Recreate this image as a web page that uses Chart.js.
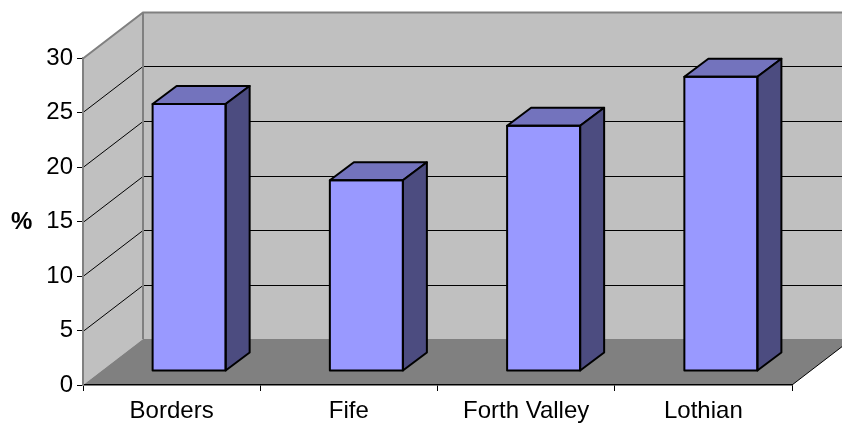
<!DOCTYPE html>
<html>
<head>
<meta charset="utf-8">
<script src="https://cdn.jsdelivr.net/npm/chart.js@4"></script>
<style>
  body { margin: 0; background: #fff; }
  #wrap { width: 842px; height: 429px; }
</style>
</head>
<body>
<div id="wrap"><canvas id="bar-chart3d" width="842" height="429"></canvas></div>
<script>
const regions = ['Borders', 'Fife', 'Forth Valley', 'Lothian'];
const percent = [24.5, 17.5, 22.5, 27];
const yTicks = [0, 5, 10, 15, 20, 25, 30];

// oblique depth of the plot box and of the bars
const DEPTH_X = 60, DEPTH_Y = -46;
const BAR_SHIFT_X = 17.5, BAR_SHIFT_Y = -14;
const BAR_DX = 24, BAR_DY = -18;
const FONT = '"Liberation Sans", Arial, sans-serif';

const walls3d = {
    id: 'walls3d',
    beforeDraw(chart) {
        const ctx = chart.ctx;
        const xs = chart.scales.x, ys = chart.scales.y;
        const L = xs.left, R = xs.right;
        const y0 = ys.getPixelForValue(0), yTop = ys.getPixelForValue(30);
        ctx.save();
        ctx.fillStyle = '#fff';
        ctx.fillRect(0, 0, chart.width, chart.height);
        // back wall
        ctx.fillStyle = '#c0c0c0';
        ctx.fillRect(L + DEPTH_X, yTop + DEPTH_Y, R - L, y0 - yTop);
        // side wall
        ctx.beginPath();
        ctx.moveTo(L, y0); ctx.lineTo(L, yTop);
        ctx.lineTo(L + DEPTH_X, yTop + DEPTH_Y); ctx.lineTo(L + DEPTH_X, y0 + DEPTH_Y);
        ctx.closePath(); ctx.fill();
        // floor
        ctx.fillStyle = '#808080';
        ctx.beginPath();
        ctx.moveTo(L, y0); ctx.lineTo(R, y0);
        ctx.lineTo(R + DEPTH_X, y0 + DEPTH_Y); ctx.lineTo(L + DEPTH_X, y0 + DEPTH_Y);
        ctx.closePath(); ctx.fill();
        // gridlines
        yTicks.forEach(v => {
            if (v === 0) return;
            const p = Math.round(ys.getPixelForValue(v)) + 0.5;
            ctx.strokeStyle = v === 30 ? '#808080' : '#000';
            ctx.lineWidth = v === 30 ? 2 : 1;
            ctx.beginPath();
            ctx.moveTo(L, p);
            ctx.lineTo(L + DEPTH_X, p + DEPTH_Y);
            ctx.lineTo(R + DEPTH_X + 5, p + DEPTH_Y);
            ctx.stroke();
        });
        ctx.strokeStyle = '#808080';
        ctx.lineWidth = 2;
        ctx.beginPath();
        ctx.moveTo(L + DEPTH_X, yTop + DEPTH_Y);
        ctx.lineTo(L + DEPTH_X, y0 + DEPTH_Y);
        ctx.stroke();
        ctx.strokeStyle = '#000';
        ctx.lineWidth = 1;
        ctx.beginPath();
        ctx.moveTo(R, y0); ctx.lineTo(R + DEPTH_X, y0 + DEPTH_Y);
        ctx.stroke();
        // axis title
        ctx.fillStyle = '#000';
        ctx.font = 'bold 24px ' + FONT;
        ctx.textAlign = 'left';
        ctx.textBaseline = 'middle';
        ctx.fillText('%', 11, ys.getPixelForValue(15) + 1);
        ctx.restore();
    },
    beforeDatasetsDraw(chart) {
        chart.ctx.save();
        chart.ctx.translate(BAR_SHIFT_X, BAR_SHIFT_Y);
    },
    afterDatasetsDraw(chart) {
        const ctx = chart.ctx;
        const meta = chart.getDatasetMeta(0);
        ctx.lineWidth = 2;
        ctx.strokeStyle = '#000';
        ctx.lineJoin = 'round';
        meta.data.forEach(el => {
            const p = el.getProps(['x', 'y', 'width', 'base'], true);
            const l = p.x - p.width / 2, r = p.x + p.width / 2;
            ctx.fillStyle = '#7373bd';
            ctx.beginPath();
            ctx.moveTo(l, p.y); ctx.lineTo(l + BAR_DX, p.y + BAR_DY);
            ctx.lineTo(r + BAR_DX, p.y + BAR_DY); ctx.lineTo(r, p.y);
            ctx.closePath(); ctx.fill(); ctx.stroke();
            ctx.fillStyle = '#4c4c80';
            ctx.beginPath();
            ctx.moveTo(r, p.y); ctx.lineTo(r + BAR_DX, p.y + BAR_DY);
            ctx.lineTo(r + BAR_DX, p.base + BAR_DY); ctx.lineTo(r, p.base);
            ctx.closePath(); ctx.fill(); ctx.stroke();
            ctx.strokeRect(l, p.y, p.width, p.base - p.y);
        });
        ctx.restore();
    }
};

const ctx = document.getElementById('bar-chart3d').getContext('2d');
const chart3d = new Chart(ctx, {
    type: 'bar',
    data: {
        labels: regions,
        datasets: [{
            label: '%',
            data: percent,
            backgroundColor: '#9999ff',
            borderWidth: 0,
            categoryPercentage: 1,
            barPercentage: 0.412,
            clip: false
        }]
    },
    options: {
        responsive: false,
        animation: false,
        layout: { padding: { top: 58, right: 50, left: 0, bottom: 0 } },
        plugins: { legend: { display: false }, tooltip: { enabled: false } },
        scales: {
            x: {
                afterFit: s => { s.height = 44; },
                grid: { drawOnChartArea: false, offset: true, tickLength: 6, color: '#000', lineWidth: 1 },
                border: { color: '#000', width: 1.5 },
                ticks: { color: '#000', padding: 6, font: { family: FONT, size: 24 } }
            },
            y: {
                min: 0, max: 30,
                afterFit: s => { s.width = 83; },
                afterBuildTicks: s => { s.ticks = yTicks.map(v => ({ value: v })); },
                grid: { drawOnChartArea: false, tickLength: 6, color: '#000', lineWidth: 1 },
                border: { color: '#808080', width: 2 },
                ticks: { color: '#000', padding: 4, font: { family: FONT, size: 24 } }
            }
        }
    },
    plugins: [walls3d]
});
</script>
</body>
</html>
